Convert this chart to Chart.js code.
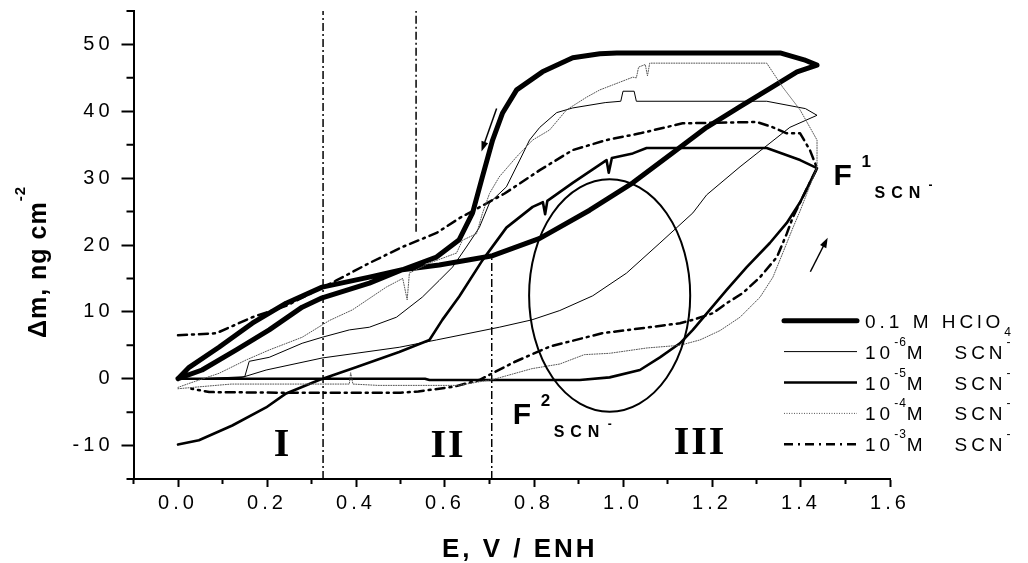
<!DOCTYPE html>
<html>
<head>
<meta charset="utf-8">
<script src="https://cdn.jsdelivr.net/npm/chart.js@4.4.0/dist/chart.umd.min.js"></script>
<style>
  html, body { margin: 0; padding: 0; background: #fff; }
</style>
</head>
<body>
<canvas id="massChart" width="1028" height="563"></canvas>
<script>
// Mass change loops, [E (V/ENH), dm (ng cm-2)]
const hclo4Loop = [
  [0, 0], [0.054, 1.3], [0.131, 4.3], [0.205, 7.3], [0.279, 10.7], [0.324, 12.1], [0.43, 14.3],
  [0.504, 16.3], [0.587, 17.0], [0.707, 18.4], [0.813, 21.0], [0.925, 25.2], [1.022, 29.3],
  [1.112, 33.8], [1.188, 37.6], [1.263, 40.7], [1.337, 43.7], [1.391, 45.9], [1.436, 46.9],
  [1.407, 47.7], [1.355, 48.7], [1.15, 48.7], [0.986, 48.7], [0.948, 48.6], [0.887, 48.0],
  [0.819, 45.9], [0.761, 43.2], [0.729, 39.7], [0.707, 35.7], [0.684, 30.2], [0.662, 24.8],
  [0.632, 20.8], [0.581, 18.2], [0.504, 16.3], [0.43, 15.2], [0.324, 13.7], [0.243, 11.3],
  [0.167, 8.3], [0.092, 4.7], [0.025, 1.7], [0, 0]
];
const scn6Loop = [
  [0, 0], [0.054, 0], [0.144, 0.2], [0.198, 1.3], [0.324, 3.1], [0.497, 4.7], [0.581, 5.8],
  [0.722, 7.7], [0.795, 8.8], [0.858, 10.2], [0.932, 12.4], [1.008, 15.8], [1.083, 20.3],
  [1.157, 24.8], [1.188, 27.5], [1.263, 31.7], [1.301, 33.7], [1.375, 37.6], [1.436, 39.4],
  [1.41, 40.4], [1.323, 41.5], [1.03, 41.5], [1.025, 43.0], [1.0, 43.0], [0.995, 41.5],
  [0.96, 41.3], [0.887, 40.5], [0.851, 39.8], [0.813, 37.6], [0.79, 35.7], [0.768, 32.7],
  [0.738, 28.7], [0.7, 26.3], [0.677, 22.6], [0.648, 19.7], [0.617, 16.7], [0.587, 14.7],
  [0.549, 12.2], [0.491, 9.2], [0.43, 7.7], [0.385, 7.3], [0.324, 6.2], [0.279, 5.3],
  [0.205, 3.2], [0.16, 2.6], [0.15, 0.3], [0.054, 0], [0, 0]
];
const scn5Loop = [
  [0, -9.85], [0.047, -9.2], [0.122, -7.0], [0.198, -4.3], [0.243, -2.2], [0.317, -0.2],
  [0.4, 1.7], [0.497, 4.0], [0.565, 5.8], [0.594, 8.8], [0.632, 12.3], [0.684, 17.7],
  [0.738, 22.6], [0.797, 25.7], [0.82, 26.4], [0.825, 24.6], [0.83, 26.6], [0.887, 29.3],
  [0.963, 32.7], [0.968, 30.8], [0.975, 33.0], [1.022, 33.7], [1.053, 34.5], [1.323, 34.5],
  [1.398, 32.7], [1.436, 31.5], [1.398, 26.4], [1.368, 23.3], [1.33, 20.3], [1.278, 16.7],
  [1.233, 13.3], [1.195, 10.3], [1.157, 7.3], [1.128, 5.3], [1.083, 3.2], [1.038, 1.3],
  [0.97, 0.2], [0.903, -0.2], [0.565, -0.2], [0.555, 0], [0, 0]
];
const scn4Loop = [
  [0, -1.5], [0.05, -1.2], [0.12, -0.8], [0.3, -0.8], [0.385, -0.8], [0.388, 0.9], [0.393, -0.8],
  [0.45, -1.0], [0.63, -1.0], [0.709, -0.1], [0.795, 1.5], [0.858, 2.2], [0.913, 3.6],
  [0.97, 3.8], [1.054, 4.6], [1.128, 5.0], [1.173, 5.8], [1.218, 7.2], [1.263, 9.2],
  [1.308, 12.2], [1.337, 15.2], [1.359, 18.8], [1.382, 22.6], [1.398, 25.1], [1.436, 31.6],
  [1.436, 35.7], [1.398, 40.2], [1.359, 43.6], [1.323, 47.2], [1.076, 47.2], [1.06, 47.2],
  [1.055, 45.3], [1.05, 47.0], [1.035, 46.6], [1.03, 45.0], [1.022, 45.1], [0.948, 43.2],
  [0.918, 42.1], [0.873, 40.2], [0.835, 37.2], [0.797, 35.7], [0.761, 33.2], [0.722, 30.2],
  [0.7, 27.7], [0.684, 24.7], [0.671, 21.7], [0.639, 20.7], [0.626, 18.8], [0.565, 17.3],
  [0.52, 15.8], [0.515, 11.8], [0.505, 15.0], [0.468, 13.7], [0.392, 10.3], [0.34, 8.7],
  [0.279, 6.2], [0.205, 4.3], [0.153, 2.8], [0.092, 0.8], [0.025, -0.7], [0, -1.3]
];
const scn3Loop = [
  [0, 6.5], [0.086, 6.8], [0.167, 9.2], [0.243, 10.9], [0.356, 14.7], [0.43, 17.3],
  [0.504, 19.7], [0.581, 21.8], [0.632, 24.0], [0.734, 27.7], [0.813, 31.2], [0.887, 34.2],
  [0.963, 35.7], [1.038, 36.7], [1.134, 38.2], [1.301, 38.4], [1.337, 37.6], [1.368, 36.7],
  [1.398, 36.7], [1.42, 34.2], [1.436, 31.5], [1.382, 24.2], [1.368, 21.7], [1.346, 18.2],
  [1.308, 15.2], [1.269, 12.8], [1.233, 11.3], [1.202, 9.8], [1.157, 8.8], [1.128, 8.3],
  [1.071, 7.8], [0.953, 6.8], [0.835, 4.8], [0.756, 2.5], [0.677, -0.2], [0.62, -1.2],
  [0.54, -1.9], [0.5, -2.1], [0.25, -2.1], [0.07, -2.0], [0.03, -1.5]
];

// region limits (dash-dot verticals) and their vertical spans
const regionLimits = [0.326, 0.535, 0.705];
const regionSpans = [[-15, 55], [22, 55], [-15, 18]];
const regionNames = ['I', 'II', 'III'];
const regionNameAt = [[0.235, -11.5], [0.607, -11.7], [1.173, -11.2]];

// annotations
const ellipseCenter = [0.970, 12.45];
const ellipseRadii = [0.181, 17.4];
const sweepArrows = [[0.716, 40.4, 0.682, 34.0], [1.421, 16.0, 1.460, 21.1]];
const fluxLabels = [['1', 1.473, 29.0], ['2', 0.752, -6.7]];

// legend text runs: [text, kind]
const legendTexts = [
  [['0.1 M HClO', 'n'], ['4', 'sub']],
  [['10', 'n'], ['-6', 'sup'], ['M   SCN', 'n'], ['-', 'sup']],
  [['10', 'n'], ['-5', 'sup'], ['M   SCN', 'n'], ['-', 'sup']],
  [['10', 'n'], ['-4', 'sup'], ['M   SCN', 'n'], ['-', 'sup']],
  [['10', 'n'], ['-3', 'sup'], ['M   SCN', 'n'], ['-', 'sup']]
];

const SANS = '"Liberation Sans", Arial, sans-serif';
const SERIF = '"Liberation Serif", "Times New Roman", serif';

function loop(label, pts, width, dash, color, legendIdx) {
  return {
    label: label,
    data: pts.map(p => ({ x: p[0], y: p[1] })),
    showLine: true,
    borderColor: color,
    borderWidth: width,
    borderDash: dash,
    borderJoinStyle: 'round',
    borderCapStyle: 'round',
    pointRadius: 0,
    fill: false,
    tension: 0,
    legendIdx: legendIdx
  };
}

const datasets = [
  loop('10-4 M SCN-', scn4Loop, 1, [1, 1.5], '#555', 3),
  loop('10-6 M SCN-', scn6Loop, 1, [], '#000', 1),
  loop('10-3 M SCN-', scn3Loop, 2.5, [9, 5, 2, 5], '#000', 4),
  loop('10-5 M SCN-', scn5Loop, 2.6, [], '#000', 2),
  loop('0.1 M HClO4', hclo4Loop, 5, [], '#000', 0)
];
regionLimits.forEach((xv, i) => {
  const d = loop('limit', [[xv, regionSpans[i][0]], [xv, regionSpans[i][1]]], 1.5, [8, 3, 2, 3], '#000', -1);
  d.borderCapStyle = 'butt';
  datasets.push(d);
});

function drawRuns(ctx, runs, x, y) {
  runs.forEach(r => {
    ctx.font = r.font;
    ctx.letterSpacing = r.ls || '0px';
    ctx.fillText(r.t, x, y + (r.dy || 0));
    x += ctx.measureText(r.t).width;
  });
}

const decorations = {
  id: 'decorations',
  beforeDraw(chart) {
    chart.ctx.letterSpacing = '4px';
  },
  afterDraw(chart) {
    const ctx = chart.ctx;
    const area = chart.chartArea;
    const xs = chart.scales.x;
    const ys = chart.scales.y;
    ctx.save();
    ctx.letterSpacing = '0px';
    ctx.strokeStyle = '#000';
    ctx.fillStyle = '#000';
    ctx.setLineDash([]);

    // minor ticks
    ctx.lineWidth = 2;
    ctx.beginPath();
    for (let i = -1; i <= 15; i += 2) {
      const px = xs.getPixelForValue(i / 10);
      ctx.moveTo(px, area.bottom);
      ctx.lineTo(px, area.bottom + 5);
    }
    for (let v = -15; v <= 55; v += 10) {
      const py = ys.getPixelForValue(v);
      ctx.moveTo(area.left - 7, py);
      ctx.lineTo(area.left, py);
    }
    ctx.stroke();

    // ellipse
    const cx = xs.getPixelForValue(ellipseCenter[0]);
    const cy = ys.getPixelForValue(ellipseCenter[1]);
    const rx = xs.getPixelForValue(ellipseCenter[0] + ellipseRadii[0]) - cx;
    const ry = cy - ys.getPixelForValue(ellipseCenter[1] + ellipseRadii[1]);
    ctx.lineWidth = 2;
    ctx.beginPath();
    ctx.ellipse(cx, cy, rx, ry, 0, 0, Math.PI * 2);
    ctx.stroke();

    // sweep arrows
    ctx.lineWidth = 1.5;
    sweepArrows.forEach(a => {
      const x0 = xs.getPixelForValue(a[0]), y0 = ys.getPixelForValue(a[1]);
      const x1 = xs.getPixelForValue(a[2]), y1 = ys.getPixelForValue(a[3]);
      const ang = Math.atan2(y1 - y0, x1 - x0);
      ctx.beginPath();
      ctx.moveTo(x0, y0);
      ctx.lineTo(x1 - 6 * Math.cos(ang), y1 - 6 * Math.sin(ang));
      ctx.stroke();
      ctx.beginPath();
      ctx.moveTo(x1, y1);
      ctx.lineTo(x1 - 10 * Math.cos(ang) + 3.5 * Math.sin(ang), y1 - 10 * Math.sin(ang) - 3.5 * Math.cos(ang));
      ctx.lineTo(x1 - 10 * Math.cos(ang) - 3.5 * Math.sin(ang), y1 - 10 * Math.sin(ang) + 3.5 * Math.cos(ang));
      ctx.closePath();
      ctx.fill();
    });

    // region names
    ctx.textAlign = 'center';
    ctx.textBaseline = 'alphabetic';
    ctx.font = 'bold 40px ' + SERIF;
    ctx.letterSpacing = '2px';
    regionNames.forEach((n, i) => {
      ctx.fillText(n, xs.getPixelForValue(regionNameAt[i][0]), ys.getPixelForValue(regionNameAt[i][1]));
    });

    // F labels
    ctx.textAlign = 'left';
    fluxLabels.forEach(f => {
      const fx = xs.getPixelForValue(f[1]);
      const fy = ys.getPixelForValue(f[2]);
      ctx.letterSpacing = '0px';
      ctx.font = 'bold 30px ' + SANS;
      ctx.fillText('F', fx, fy);
      ctx.font = 'bold 17px ' + SANS;
      ctx.fillText(f[0], fx + 28, fy - 18);
      ctx.font = 'bold 16px ' + SANS;
      ctx.letterSpacing = '6px';
      ctx.fillText('SCN', fx + 41, fy + 13);
      ctx.letterSpacing = '0px';
      ctx.font = 'bold 12px ' + SANS;
      ctx.fillText('-', fx + 95, fy + 4);
    });

    // legend
    const legTop = 320.7, legGap = 30.9;
    chart.data.datasets.forEach(ds => {
      if (ds.legendIdx < 0) return;
      const ly = legTop + ds.legendIdx * legGap;
      ctx.save();
      ctx.strokeStyle = ds.borderColor;
      ctx.lineWidth = ds.borderWidth;
      ctx.setLineDash(ds.borderDash);
      ctx.lineCap = ds.borderWidth > 3 ? 'round' : 'butt';
      ctx.beginPath();
      ctx.moveTo(784, ly);
      ctx.lineTo(857, ly);
      ctx.stroke();
      ctx.restore();
      const runs = legendTexts[ds.legendIdx].map(r => {
        if (r[1] === 'sub') return { t: r[0], font: '12px ' + SANS, dy: 8, ls: '1px' };
        if (r[1] === 'sup') return { t: r[0], font: '12px ' + SANS, dy: -13, ls: '1px' };
        return { t: r[0], font: '19px ' + SANS, dy: 0, ls: '4px' };
      });
      drawRuns(ctx, runs, 865, ly + 7);
    });

    // axis titles
    ctx.fillStyle = '#000';
    ctx.letterSpacing = '3px';
    ctx.font = 'bold 26px ' + SANS;
    ctx.textAlign = 'center';
    ctx.fillText('E, V / ENH', (area.left + area.right) / 2 + 8, 557);

    ctx.textAlign = 'left';
    const yRuns = [
      { t: '\u0394m, ng cm', font: 'bold 25px ' + SANS, dy: 0, ls: '1px' },
      { t: '-2', font: 'bold 15px ' + SANS, dy: -21, ls: '1px' }
    ];
    ctx.save();
    ctx.translate(46, 338);
    ctx.rotate(-Math.PI / 2);
    drawRuns(ctx, yRuns, 0, 0);
    ctx.restore();

    ctx.restore();
  }
};

const isMajorX = v => Math.round(v * 10) % 2 === 0;
const isMajorY = v => Math.round(v) % 10 === 0;

new Chart(document.getElementById('massChart').getContext('2d'), {
  type: 'scatter',
  data: { datasets: datasets },
  options: {
    responsive: false,
    animation: false,
    layout: { padding: { left: 0, top: 11, right: 138, bottom: 0 } },
    plugins: { legend: { display: false }, tooltip: { enabled: false } },
    scales: {
      x: {
        type: 'linear',
        min: -0.1,
        max: 1.6,
        afterFit: scale => {
          scale.height = 84;
          scale.paddingLeft = 0;
          scale.paddingRight = 0;
        },
        border: { display: true, color: '#000', width: 2 },
        grid: {
          drawOnChartArea: false,
          tickLength: 8,
          tickWidth: 2,
          tickColor: c => (c.tick && isMajorX(c.tick.value)) ? '#000' : 'rgba(0,0,0,0)'
        },
        ticks: {
          stepSize: 0.1,
          autoSkip: false,
          maxRotation: 0,
          padding: 4,
          color: '#000',
          font: { family: SANS, size: 20 },
          callback: v => isMajorX(v) ? (Math.round(v * 10) / 10).toFixed(1) : ''
        }
      },
      y: {
        min: -15,
        max: 55,
        afterFit: scale => {
          scale.width = 133.5;
          scale.paddingTop = 0;
          scale.paddingBottom = 0;
        },
        border: { display: true, color: '#000', width: 2 },
        grid: {
          drawOnChartArea: false,
          tickLength: 12,
          tickWidth: 2,
          tickColor: c => (c.tick && isMajorY(c.tick.value)) ? '#000' : 'rgba(0,0,0,0)'
        },
        ticks: {
          stepSize: 5,
          autoSkip: false,
          padding: 8,
          color: '#000',
          font: { family: SANS, size: 20 },
          callback: v => isMajorY(v) ? String(Math.round(v)) : ''
        }
      }
    }
  },
  plugins: [decorations]
});
</script>
</body>
</html>
